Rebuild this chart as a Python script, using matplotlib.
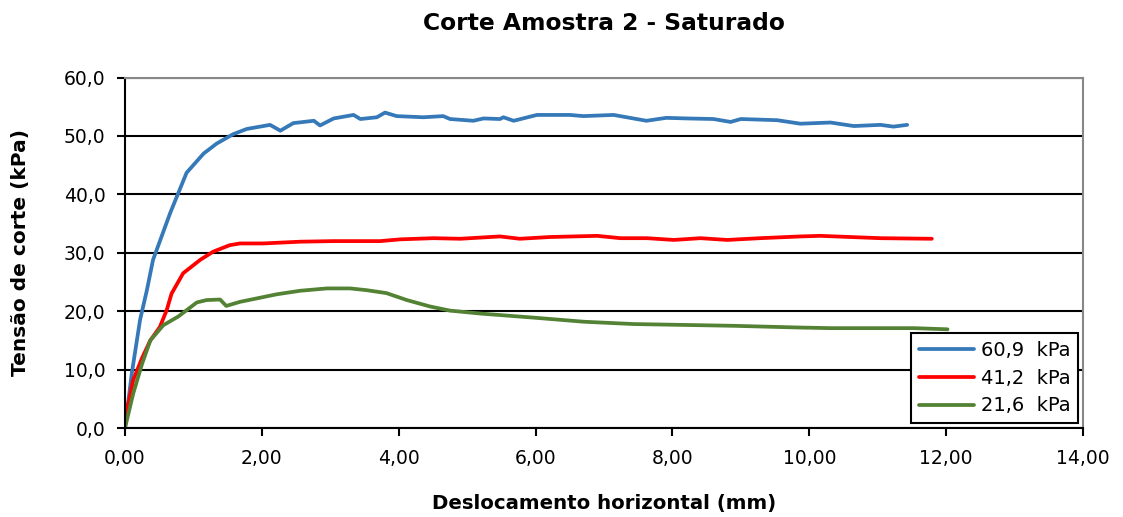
import matplotlib.pyplot as plt
from matplotlib.ticker import FuncFormatter, MultipleLocator

# curves (x in mm, y in kPa)
x_609 = [0.0, 0.10, 0.22, 0.32, 0.41, 0.66, 0.90, 1.15, 1.34, 1.58, 1.78, 2.12, 2.27, 2.46,
         2.76, 2.85, 3.05, 3.34, 3.44, 3.68, 3.80, 3.97, 4.36, 4.65, 4.75, 5.09, 5.24, 5.48,
         5.53, 5.68, 6.02, 6.50, 6.70, 7.14, 7.62, 7.91, 8.21, 8.60, 8.85, 9.00, 9.53, 9.87,
         10.31, 10.65, 11.04, 11.23, 11.43]
y_609 = [0.0, 9.4, 18.5, 23.6, 28.8, 36.8, 43.7, 47.0, 48.7, 50.3, 51.2, 51.9, 50.9, 52.2,
         52.6, 51.8, 53.0, 53.6, 52.9, 53.2, 54.0, 53.4, 53.2, 53.4, 52.9, 52.6, 53.0, 52.9,
         53.2, 52.6, 53.6, 53.6, 53.4, 53.6, 52.6, 53.1, 53.0, 52.9, 52.4, 52.9, 52.7, 52.1,
         52.3, 51.7, 51.9, 51.6, 51.9]

x_412 = [0.0, 0.12, 0.25, 0.37, 0.51, 0.61, 0.68, 0.85, 1.10, 1.29, 1.53, 1.68, 2.02, 2.56,
         3.05, 3.73, 4.02, 4.51, 4.90, 5.48, 5.77, 6.21, 6.90, 7.24, 7.63, 8.02, 8.41, 8.80,
         9.28, 9.87, 10.16, 11.04, 11.79]
y_412 = [1.5, 8.2, 12.0, 15.0, 17.3, 20.2, 23.0, 26.5, 28.8, 30.2, 31.3, 31.6, 31.6, 31.9,
         32.0, 32.0, 32.3, 32.5, 32.4, 32.8, 32.4, 32.7, 32.9, 32.5, 32.5, 32.2, 32.5, 32.2,
         32.5, 32.8, 32.9, 32.5, 32.4]

x_216 = [0.0, 0.12, 0.25, 0.37, 0.56, 0.78, 1.05, 1.19, 1.39, 1.48, 1.68, 1.93, 2.22, 2.56,
         2.95, 3.29, 3.53, 3.82, 4.12, 4.46, 4.75, 5.19, 5.97, 6.70, 7.43, 8.41, 8.89, 9.87,
         10.31, 11.53, 12.02]
y_216 = [0.0, 5.9, 11.0, 15.0, 17.6, 19.1, 21.5, 21.9, 22.0, 20.9, 21.6, 22.2, 22.9, 23.5,
         23.9, 23.9, 23.6, 23.1, 21.9, 20.8, 20.1, 19.6, 18.9, 18.2, 17.8, 17.6, 17.5, 17.2,
         17.1, 17.1, 16.9]

labels = ['60,9  kPa', '41,2  kPa', '21,6  kPa']
colors = ['#3579b8', '#ff0000', '#548235']

fig = plt.figure(figsize=(11.23, 5.17), dpi=100)
ax = fig.add_axes([0.1113, 0.1721, 0.8531, 0.6779])

for xs, ys, lab, c in zip([x_609, x_412, x_216], [y_609, y_412, y_216], labels, colors):
    ax.plot(xs, ys, color=c, lw=2.7, label=lab, solid_capstyle='round',
            solid_joinstyle='round')

ax.set_xlim(0, 14)
ax.set_ylim(0, 60)
ax.xaxis.set_major_locator(MultipleLocator(2))
ax.yaxis.set_major_locator(MultipleLocator(10))
ax.xaxis.set_major_formatter(FuncFormatter(lambda v, p: f'{v:.2f}'.replace('.', ',')))
ax.yaxis.set_major_formatter(FuncFormatter(lambda v, p: f'{v:.1f}'.replace('.', ',')))
ax.grid(axis='y', color='black', lw=1.5)
ax.set_axisbelow(True)
ax.tick_params(direction='out', length=6, width=1.5, labelsize=13.5, colors='black')
ax.tick_params(axis='x', pad=9)
ax.tick_params(axis='y', pad=8)

for s in ['left', 'bottom']:
    ax.spines[s].set_linewidth(1.5)
    ax.spines[s].set_color('black')
for s in ['top', 'right']:
    ax.spines[s].set_linewidth(1.5)
    ax.spines[s].set_color('#888888')

ax.set_title('Corte Amostra 2 - Saturado', fontsize=16.8, fontweight='bold', pad=34)
ax.set_xlabel('Deslocamento horizontal (mm)', fontsize=14.2, fontweight='bold', labelpad=19)
ax.set_ylabel('Tensão de corte (kPa)', fontsize=14.5, fontweight='bold', labelpad=24)

leg = ax.legend(loc='lower right', fontsize=14, frameon=True, fancybox=False,
                edgecolor='black', handlelength=2.85, handletextpad=0.35,
                borderaxespad=0.25, labelspacing=0.45, borderpad=0.4)
leg.get_frame().set_linewidth(1.5)
leg.get_frame().set_alpha(1)

plt.savefig('out.png', dpi=100)
